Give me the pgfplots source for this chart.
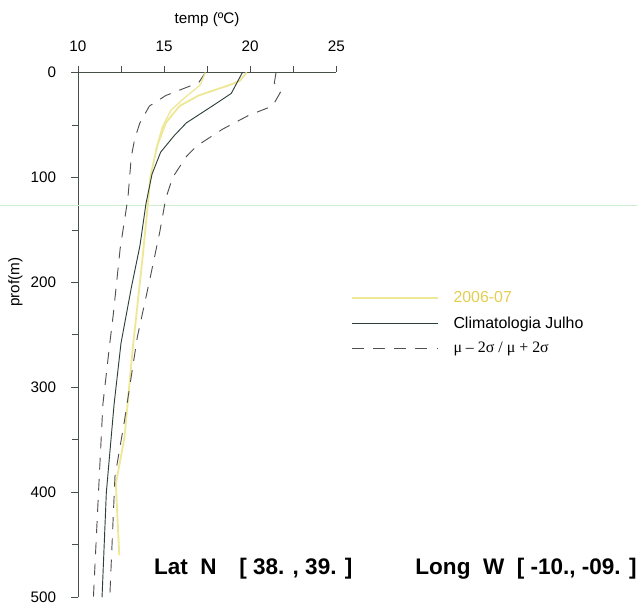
\documentclass[border=0pt]{standalone}
\usepackage{fontspec}
\setmainfont{Liberation Sans}
\newfontfamily\symfont{Liberation Serif}
\usepackage{pgfplots}
\pgfplotsset{compat=1.18}
\definecolor{yel}{RGB}{238,232,150}
\definecolor{yeltxt}{RGB}{228,205,80}
\definecolor{clim}{RGB}{45,65,55}
\definecolor{dsh}{RGB}{80,80,80}
\definecolor{axc}{RGB}{70,80,70}
\definecolor{scan}{RGB}{205,238,210}

\begin{document}
\begin{tikzpicture}
\begin{axis}[
  scale only axis, width=195pt, height=396pt,
  clip=false,
  xmin=10, xmax=25, ymin=0, ymax=500, y dir=reverse,
  axis x line*=top, axis y line*=left,
  xtick={10,15,20,25}, minor xtick={12.5,17.5,22.5},
  ytick={0,100,...,500}, minor ytick={50,150,...,450},
  tick align=outside, major tick length=5pt, minor tick length=4.5pt,
  every tick/.style={axc,line width=0.5pt},
  axis line style={axc,line width=0.6pt},
  tick label style={font=\fontsize{11.5}{13}\selectfont},
  xticklabel style={yshift=7pt},
  yticklabel style={xshift=-8pt},
  /pgf/number format/assume math mode=true,
  xlabel={temp (ºC)}, ylabel={prof(m)},
  label style={font=\fontsize{11.5}{13}\selectfont},
  xlabel style={at={(axis description cs:0.5,1.10)}, anchor=center},
  ylabel style={at={(axis description cs:-0.242,0.60)}, anchor=center},
  legend style={at={(axis description cs:1.04,0.593)}, anchor=north west,
    draw=none, fill=none, font=\fontsize{12}{14}\selectfont, row sep=5pt},
  legend cell align=left,
  legend image code/.code={\draw[#1] (0pt,0pt) -- (65pt,0pt); \path (74pt,0pt);},
]
\draw[scan, line width=0.6pt] (axis description cs:-0.3,0.746) -- (axis description cs:2.165,0.746);
\path (axis description cs:-0.3,1.138) rectangle (axis description cs:2.165,-0.017);

\addplot[yel, line width=1.4pt] coordinates {
(19.8,0) (19.4,8) (18.8,12) (17.0,22) (15.9,32) (15.1,48) (14.6,70) (14.2,100)
(14.05,127) (13.75,177) (13.5,215) (13.2,260) (12.7,348) (12.2,392) (12.4,460)};
\addlegendentry{\color{yeltxt}2006-07}
\addplot[clim, line width=0.7pt] coordinates {
(19.55,0) (18.9,20) (17.8,32) (16.3,48) (15.6,60) (14.8,76) (14.3,97) (13.95,125)
(13.6,165) (13.1,205) (12.5,258) (12.1,316) (11.65,400) (11.4,500)};
\addlegendentry{Climatologia Julho}
\addplot[dsh, line width=0.7pt, dash pattern=on 9pt off 7pt] coordinates {
(17.4,0) (17.0,10) (16.5,13) (15.1,22) (14.15,32) (13.6,48) (13.3,63) (13.1,80)
(12.9,120) (12.45,168) (12.05,231) (11.85,258) (11.45,316) (11.2,398) (10.9,500)};
\addlegendentry{{\symfont μ – 2σ / μ + 2σ}}
\addplot[dsh, line width=0.7pt, dash pattern=on 9pt off 7pt, forget plot] coordinates {
(21.5,0) (21.4,10) (21.75,19) (21.3,32) (19.9,41) (18.4,54) (16.9,70) (16.3,80)
(15.5,100) (15.1,120) (14.75,152) (14.15,199) (13.45,252) (12.7,332) (12.15,385)
(12.0,442) (11.85,500)};
\addplot[yel, line width=1.0pt, forget plot] coordinates {
(17.4,0) (17.1,12) (16.2,24) (15.4,36) (14.9,52) (14.5,75)};

\node[anchor=base west, font=\bfseries\fontsize{17}{20}\selectfont] at (axis description cs:0.277,0.0436) {Lat\ \ N\quad[ 38. , 39. ]};
\node[anchor=base west, font=\bfseries\fontsize{17}{20}\selectfont] at (axis description cs:1.288,0.0436) {Long\ \ W\ \ [ -10., -09. ]};
\end{axis}
\end{tikzpicture}
\end{document}
